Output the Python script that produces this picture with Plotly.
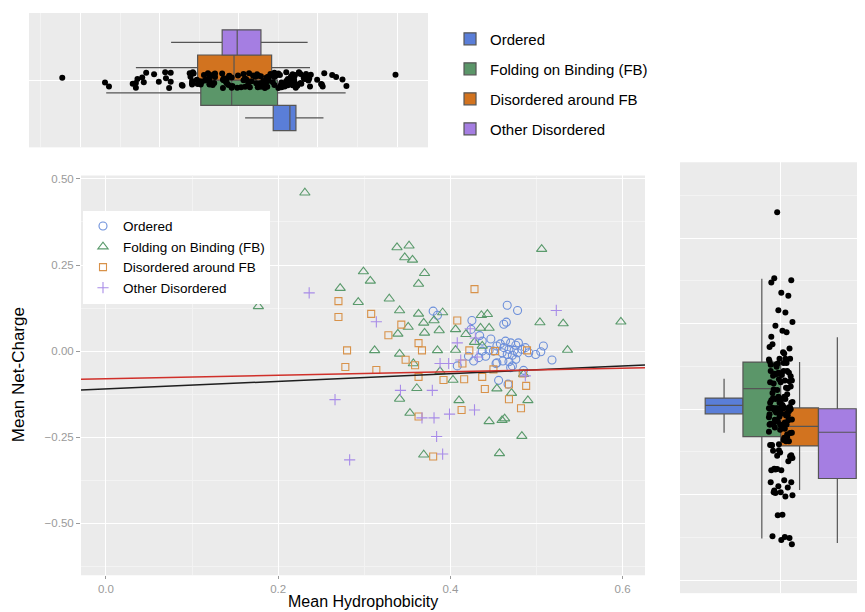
import plotly.graph_objects as go

# ---------------- data ----------------
groups = ["Ordered", "Folding on Binding (FB)", "Disordered around FB", "Other Disordered"]

ord_x = [0.380, 0.385, 0.466, 0.478, 0.462, 0.465, 0.425, 0.424, 0.434, 0.437, 0.508, 0.505,
         0.499, 0.518, 0.458, 0.464, 0.470, 0.476, 0.479, 0.462, 0.468, 0.474, 0.460, 0.466,
         0.472, 0.478, 0.483, 0.450, 0.445, 0.437, 0.441, 0.454, 0.461, 0.468, 0.476, 0.472,
         0.487, 0.491, 0.456, 0.467, 0.421, 0.433, 0.427, 0.408, 0.485, 0.453, 0.470, 0.447, 0.454]
ord_y = [0.116, 0.104, 0.133, 0.118, 0.078, 0.084, 0.089, 0.063, 0.045, 0.029, 0.015, -0.002,
         -0.010, -0.026, 0.021, 0.029, 0.024, 0.017, 0.024, 0.010, 0.005, 0.002, -0.005, -0.010,
         -0.012, -0.005, 0.005, 0.000, 0.002, 0.000, -0.015, -0.034, -0.029, -0.031, -0.024, -0.043,
         0.010, -0.005, -0.085, -0.096, -0.015, -0.019, -0.029, -0.043, -0.056, -0.036, -0.048, 0.035, 0.015]

fb_x = [0.231, 0.177, 0.338, 0.352, 0.347, 0.356, 0.506, 0.299, 0.370, 0.307, 0.363, 0.272,
        0.293, 0.329, 0.341, 0.363, 0.391, 0.369, 0.381, 0.370, 0.387, 0.406, 0.418, 0.436,
        0.443, 0.435, 0.445, 0.504, 0.531, 0.598, 0.536, 0.351, 0.339, 0.312, 0.341, 0.385,
        0.406, 0.428, 0.357, 0.388, 0.403, 0.454, 0.485, 0.361, 0.341, 0.410, 0.471, 0.490,
        0.353, 0.445, 0.460, 0.463, 0.483, 0.369, 0.457, 0.437]
fb_y = [0.460, 0.130, 0.301, 0.306, 0.272, 0.265, 0.296, 0.231, 0.226, 0.204, 0.195, 0.183,
        0.142, 0.152, 0.118, 0.108, 0.112, 0.082, 0.089, 0.053, 0.060, 0.063, 0.049, 0.104,
        0.107, 0.067, 0.067, 0.083, 0.080, 0.085, 0.003, 0.070, 0.050, 0.002, -0.008, 0.002,
        0.003, 0.026, -0.036, -0.059, -0.084, -0.109, -0.067, -0.108, -0.139, -0.143, -0.122, -0.143,
        -0.180, -0.204, -0.201, -0.196, -0.247, -0.301, -0.297, 0.015]

dfb_x = [0.428, 0.270, 0.270, 0.308, 0.343, 0.328, 0.363, 0.367, 0.408, 0.280, 0.278, 0.314,
         0.348, 0.359, 0.363, 0.392, 0.416, 0.437, 0.450, 0.422, 0.489, 0.440, 0.468, 0.488,
         0.484, 0.414, 0.468, 0.482, 0.413, 0.363, 0.380, 0.452]
dfb_y = [0.180, 0.145, 0.099, 0.108, 0.077, 0.046, 0.023, 0.002, 0.089, 0.002, -0.046, -0.055,
         -0.025, -0.041, -0.075, -0.084, -0.082, -0.075, -0.053, 0.002, 0.002, -0.110, -0.097, -0.101,
         -0.065, -0.036, -0.140, -0.166, -0.171, -0.190, -0.306, 0.000]

oth_x = [0.236, 0.314, 0.523, 0.342, 0.266, 0.408, 0.423, 0.429, 0.431, 0.388, 0.398, 0.412,
         0.487, 0.379, 0.367, 0.381, 0.399, 0.428, 0.384, 0.391, 0.283]
oth_y = [0.169, 0.085, 0.118, -0.114, -0.141, 0.024, 0.065, 0.038, -0.017, -0.036, -0.036, -0.026,
         -0.072, -0.114, -0.194, -0.194, -0.183, -0.171, -0.248, -0.299, -0.316]

# fitted lines: (intercept, slope)
line_black = (-0.110, 0.111)
line_red = (-0.080, 0.050)

# boxplot statistics: [lower whisker, q1, median, q3, upper whisker]
box_hyd = {
    "Ordered": [0.408, 0.4435, 0.4646, 0.4722, 0.507],
    "Folding on Binding (FB)": [0.2325, 0.352, 0.391, 0.449, 0.535],
    "Disordered around FB": [0.270, 0.348, 0.394, 0.4415, 0.490],
    "Other Disordered": [0.3145, 0.379, 0.398, 0.428, 0.487],
}
box_chg = {
    "Ordered": [-0.055, -0.011, 0.009, 0.026, 0.071],
    "Folding on Binding (FB)": [-0.302, -0.064, 0.048, 0.110, 0.305],
    "Disordered around FB": [-0.189, -0.086, -0.040, 0.003, 0.110],
    "Other Disordered": [-0.313, -0.162, -0.054, 0.001, 0.168],
}

# ---------------- styling ----------------
box_fill = ["#5A7ED8", "#5B9669", "#D2731F", "#A57EE2"]
pt_col = ["#6C8FDA", "#5A9A6C", "#D8924A", "#A88CE8"]
pt_sym = ["circle-open", "triangle-up-open", "square-open", "cross-thin-open"]
pt_size = [8, 9, 7, 8]
offsets = [-0.3375, -0.1125, 0.1125, 0.3375]
BOXW = 0.225
FONT = "Liberation Sans, Arial, sans-serif"
BG = "#EBEBEB"
MINOR = "#F3F3F3"

fig = go.Figure()

# ----- main scatter -----
xs = [ord_x, fb_x, dfb_x, oth_x]
ys = [ord_y, fb_y, dfb_y, oth_y]
for i, g in enumerate(groups):
    fig.add_trace(go.Scatter(
        x=xs[i], y=ys[i], mode="markers", name=g, legend="legend",
        marker=dict(symbol=pt_sym[i], size=pt_size[i], color=pt_col[i],
                    line=dict(width=1.1, color=pt_col[i])),
        xaxis="x", yaxis="y"))

XR = [-0.029, 0.626]
for (a, b), col in [(line_black, "#1E1E1E"), (line_red, "#D0302A")]:
    fig.add_trace(go.Scatter(
        x=XR, y=[a + b * XR[0], a + b * XR[1]], mode="lines",
        line=dict(color=col, width=1.5), showlegend=False, hoverinfo="skip",
        xaxis="x", yaxis="y"))

# ----- top marginal (hydrophobicity, horizontal boxes) -----
for i, g in enumerate(groups):
    lf, q1, md, q3, uf = box_hyd[g]
    fig.add_trace(go.Box(
        orientation="h", y=[1 + offsets[i]], q1=[q1], median=[md], q3=[q3],
        lowerfence=[lf], upperfence=[uf], width=BOXW, whiskerwidth=0,
        fillcolor=box_fill[i], line=dict(color="#555555", width=1.2),
        boxpoints=False, name=g, legend="legend2", showlegend=True,
        legendgroup=g, xaxis="x2", yaxis="y2", hoverinfo="skip"))

all_x = ord_x + fb_x + dfb_x + oth_x
all_y = ord_y + fb_y + dfb_y + oth_y
n = len(all_x)
jit = [(((k * 53) % 41) / 40.0 - 0.5) * 0.14 for k in range(n)]

fig.add_trace(go.Scatter(
    x=all_x, y=[1 + j for j in jit], mode="markers",
    marker=dict(color="black", size=6), showlegend=False, hoverinfo="skip",
    xaxis="x2", yaxis="y2"))

# ----- right marginal (net charge, vertical boxes) -----
for i, g in enumerate(groups):
    lf, q1, md, q3, uf = box_chg[g]
    fig.add_trace(go.Box(
        x=[1 + offsets[i]], q1=[q1], median=[md], q3=[q3],
        lowerfence=[lf], upperfence=[uf], width=BOXW, whiskerwidth=0,
        fillcolor=box_fill[i], line=dict(color="#555555", width=1.2),
        boxpoints=False, name=g, showlegend=False,
        xaxis="x3", yaxis="y3", hoverinfo="skip"))

fig.add_trace(go.Scatter(
    x=[1 + j for j in jit], y=all_y, mode="markers",
    marker=dict(color="black", size=6), showlegend=False, hoverinfo="skip",
    xaxis="x3", yaxis="y3"))

# ---------------- layout ----------------
tickfont = dict(family=FONT, size=11.5, color="#9A9A9A")
fig.update_layout(
    width=865, height=612, margin=dict(l=0, r=0, t=0, b=0),
    paper_bgcolor="white", plot_bgcolor=BG,
    font=dict(family=FONT, color="black"),
    xaxis=dict(domain=[0.0844, 0.7364], anchor="y", range=XR,
               tick0=0, dtick=0.2, tickformat=".1f", showgrid=True, gridcolor="white",
               gridwidth=1.2, zeroline=False, ticks="outside", ticklen=3,
               tickcolor="#9A9A9A", tickfont=tickfont, showline=False,
               minor=dict(dtick=0.1, tick0=0, showgrid=True, gridcolor=MINOR, gridwidth=0.8)),
    yaxis=dict(domain=[0.0735, 0.7299], anchor="x", range=[-0.651, 0.51],
               tick0=0, dtick=0.25, tickformat=".2f", showgrid=True, gridcolor="white",
               gridwidth=1.2, zeroline=False, ticks="outside", ticklen=4,
               tickcolor="#9A9A9A", tickfont=tickfont, showline=False,
               minor=dict(dtick=0.125, tick0=0, showgrid=True, gridcolor=MINOR, gridwidth=0.8)),
    xaxis2=dict(domain=[0.0243, 0.4855], anchor="y2", range=[0.135, 0.639],
                tick0=0.2, dtick=0.1, showticklabels=False, ticks="", showgrid=True,
                gridcolor="white", gridwidth=1.2, zeroline=False,
                minor=dict(dtick=0.05, tick0=0.15, showgrid=True, gridcolor=MINOR, gridwidth=0.8)),
    yaxis2=dict(domain=[0.7761, 0.9967], anchor="x2", range=[0.4, 1.6],
                tickvals=[1], showticklabels=False, ticks="", showgrid=True,
                gridcolor="white", gridwidth=1.2, zeroline=False),
    xaxis3=dict(domain=[0.7769, 1.0], anchor="y3", range=[0.4, 1.55],
                tickvals=[1], showticklabels=False, ticks="", showgrid=True,
                gridcolor="white", gridwidth=1.2, zeroline=False),
    yaxis3=dict(domain=[0.0441, 0.7516], anchor="x3", range=[-0.43, 0.577],
                tick0=0, dtick=0.2, showticklabels=False, ticks="", showgrid=True,
                gridcolor="white", gridwidth=1.2, zeroline=False,
                minor=dict(dtick=0.1, tick0=0, showgrid=True, gridcolor=MINOR, gridwidth=0.8)),
    legend=dict(x=0.0867, y=0.672, xanchor="left", yanchor="top", bgcolor="white",
                font=dict(family=FONT, size=13.5, color="black"), borderwidth=0,
                itemwidth=30, tracegroupgap=0),
    legend2=dict(x=0.511, y=0.981, xanchor="left", yanchor="top", bgcolor="rgba(0,0,0,0)",
                 font=dict(family=FONT, size=15, color="black"), borderwidth=0,
                 tracegroupgap=7.5, traceorder="grouped"),
    boxmode="overlay",
    annotations=[
        dict(text="Mean Hydrophobicity", xref="paper", yref="paper", x=0.4105, y=0.0131,
             xanchor="center", yanchor="bottom", showarrow=False,
             font=dict(family=FONT, size=16, color="black")),
        dict(text="Mean Net-Charge", xref="paper", yref="paper", x=0.0116, y=0.402,
             xanchor="center", yanchor="middle", showarrow=False, textangle=-90,
             font=dict(family=FONT, size=17, color="black")),
    ],
)

fig.write_html("out.html")
